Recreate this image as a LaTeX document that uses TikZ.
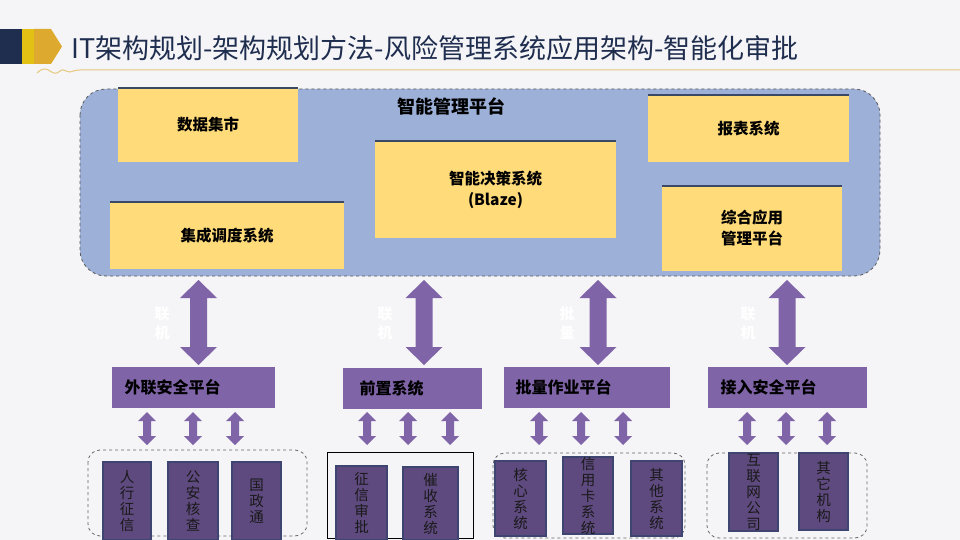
\documentclass[tikz,border=0pt]{standalone}
\usepackage{fontspec}
\setmainfont{Noto Sans CJK SC}
\usetikzlibrary{calc}
\definecolor{bgc}{HTML}{F5F5F7}
\definecolor{navy}{HTML}{1F2D4F}
\definecolor{goldA}{HTML}{E2C014}
\definecolor{goldB}{HTML}{DDA92E}
\definecolor{lineg}{HTML}{E6C77C}
\definecolor{platc}{HTML}{9DB0D8}
\definecolor{yelc}{HTML}{FFDB7A}
\definecolor{topl}{HTML}{3A4866}
\definecolor{purc}{HTML}{8064A8}
\definecolor{dpur}{HTML}{5F4A80}
\definecolor{dpurb}{HTML}{3E4570}
\tikzset{
  x=1pt,y=-1pt,
  grpd/.style={draw=black!60,dashed,line width=0.8pt,rounded corners=12pt},
  arrfill/.style={fill=purc},
  arlab/.style={text=white,font=\bfseries\fontsize{15}{19}\selectfont,align=center},
  ptext/.style={anchor=west,font=\bfseries\fontsize{16}{19}\selectfont},
  ytext/.style={font=\bfseries\fontsize{15.5}{21}\selectfont,align=center},
  stext/.style={font=\fontsize{14.5}{16}\selectfont,align=center,text=black!90}
}
\newcommand\dblarr[6]{%
 \fill[arrfill] (#1,#2) -- (#1+#4,#2+#6) -- (#1+#5,#2+#6) -- (#1+#5,#3-#6) -- (#1+#4,#3-#6) -- (#1,#3) -- (#1-#4,#3-#6) -- (#1-#5,#3-#6) -- (#1-#5,#2+#6) -- (#1-#4,#2+#6) -- cycle;}
\newcommand\ybx[6]{% name, x1,y1,x2,y2,text
 \fill[yelc] (#2,#3) rectangle (#4,#5);
 \draw[topl,line width=1.6pt] (#2,#3) -- (#4,#3);
 \node[ytext] (#1) at ({(#2+#4)/2},{(#3+#5)/2}) {#6};}
\newcommand\sbx[6]{% name x1 y1 x2 y2 text
 \fill[dpur] (#2,#3) rectangle (#4,#5);
 \draw[dpurb,line width=1.3pt] (#2,#3) rectangle (#4,#5);
 \node[stext] (#1) at ({(#2+#4)/2},{(#3+#5)/2}) {#6};}
\begin{document}
\begin{tikzpicture}
\fill[bgc] (0,0) rectangle (960,540);
\useasboundingbox (0,0) rectangle (960,540);
% header
\fill[navy] (0,29) rectangle (22,64);
\fill[goldA] (22,29) rectangle (34,64);
\fill[goldB] (34,29) -- (51,29) -- (62,46.5) -- (51,64) -- (34,64) -- cycle;
\node[anchor=base west,inner sep=0pt,text=navy,font=\fontsize{27}{31}\selectfont] (title) at (71,59) {IT架构规划-架构规划方法-风险管理系统应用架构-智能化审批};
\draw[lineg,line width=1pt] (37,73) .. controls (42,68) and (46,68) .. (50,71) .. controls (54,74) and (57,74) .. (60,71) .. controls (63,68) and (66,72) .. (70,72) .. controls (73,71) and (76,70) .. (80,70) -- (960,70);
% platform
\draw[fill=platc,draw=black!65,dashed,line width=0.8pt,rounded corners=26pt] (80,89) rectangle (880,276);
\node[font=\bfseries\fontsize{18}{21}\selectfont] (plat) at (451,106) {智能管理平台};
\ybx{dm}{118}{88}{298}{162}{数据集市}
\ybx{jc}{110}{202}{344}{269}{集成调度系统}
\ybx{jc2}{375}{141}{616}{238}{智能决策系统\\(Blaze)}
\ybx{bb}{648}{95}{849}{162}{报表系统}
\ybx{zh}{662}{186}{842}{271}{综合应用\\管理平台}
% big arrows
\dblarr{198.5}{280}{365}{18.5}{8.5}{18}
\dblarr{424}{280}{365}{18.5}{8.5}{18}
\dblarr{598}{280}{365}{18.5}{8.5}{18}
\dblarr{787}{280}{365}{18.5}{8.5}{18}
\node[arlab] (l1) at (162,323) {联\\机};
\node[arlab] (l2) at (385,323) {联\\机};
\node[arlab] (l3) at (567,323) {批\\量};
\node[arlab] (l4) at (748,323) {联\\机};
% platforms
\fill[purc] (112,367) rectangle (275,408);
\node[ptext] (p1) at (121,387.5) {外联安全平台};
\fill[purc] (343,368) rectangle (482,409);
\node[ptext] (p2) at (356,388.5) {前置系统};
\fill[purc] (504,367) rectangle (670,408);
\node[ptext] (p3) at (512,387.5) {批量作业平台};
\fill[purc] (708,367) rectangle (867,408);
\node[ptext] (p4) at (717,387.5) {接入安全平台};
% small arrows
\foreach \xx in {147,193,235,367,408,450,539,581,623,747,786,827}{\dblarr{\xx}{412}{445}{9}{4}{9}}
% groups
\draw[grpd] (88,450) rectangle (307,536);
\draw[black,line width=1pt] (327,452) rectangle (473,538);
\draw[grpd] (493,453) rectangle (685,538);
\draw[grpd] (707,453) rectangle (867,538);
% small boxes
\sbx{a1}{103}{462}{151}{540}{人\\行\\征\\信}
\sbx{a2}{168}{462}{218}{540}{公\\安\\核\\查}
\sbx{a3}{232}{462}{281}{540}{国\\政\\通}
\sbx{b1}{336}{466}{387}{540}{征\\信\\审\\批}
\sbx{b2}{403}{467}{458}{540}{催\\收\\系\\统}
\sbx{c1}{495}{461}{546}{536}{核\\心\\系\\统}
\sbx{c2}{563}{457}{613}{534}{信\\用\\卡\\系\\统}
\sbx{c3}{631}{461}{682}{536}{其\\他\\系\\统}
\sbx{d1}{729}{453}{778}{531}{互\\联\\网\\公\\司}
\sbx{d2}{799}{453}{848}{530}{其\\它\\机\\构}
\end{tikzpicture}
\end{document}
